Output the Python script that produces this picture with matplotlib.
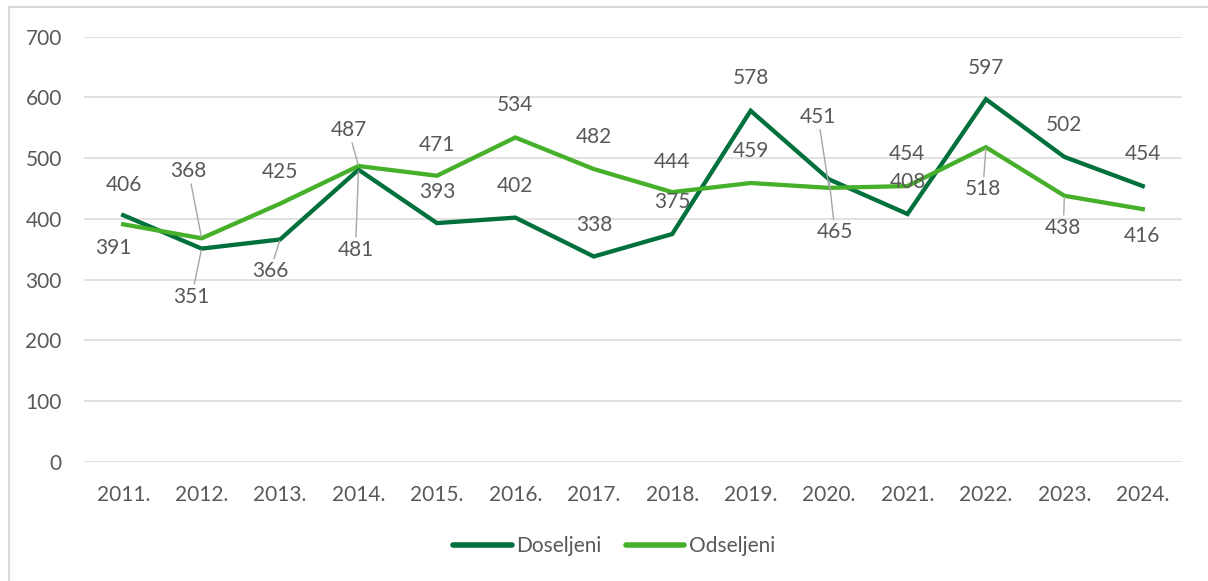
import matplotlib
matplotlib.use("Agg")
import matplotlib.pyplot as plt
from matplotlib.lines import Line2D

plt.rcParams['font.family'] = ['Lato', 'DejaVu Sans']

years = ['2011.', '2012.', '2013.', '2014.', '2015.', '2016.', '2017.',
         '2018.', '2019.', '2020.', '2021.', '2022.', '2023.', '2024.']
doseljeni = [406, 351, 366, 481, 393, 402, 338, 375, 578, 465, 408, 597, 502, 454]
odseljeni = [391, 368, 425, 487, 471, 534, 482, 444, 459, 451, 454, 518, 438, 416]
y_ticks = [0, 100, 200, 300, 400, 500, 600, 700]

# label placement (pixel offsets from the point) and leader-line flags
dos_off = [(1, 30), (-10, -48), (-10, -32), (-3, -80), (0, 31), (0, 32), (0, 31),
           (0, 32), (0, 33), (6, -53), (0, 32), (0, 31), (0, 32), (0, 32)]
dos_lead = [0, 1, 1, 1, 0, 0, 0, 0, 0, 1, 0, 0, 0, 0]
ods_off = [(-10, -24), (-13, 67), (0, 32), (-10, 36), (0, 31), (0, 32), (0, 32),
           (0, 30), (0, 32), (-11, 71), (-1, 32), (-3, -42), (-1, -32), (-1, -27)]
ods_lead = [0, 1, 0, 1, 0, 0, 0, 0, 0, 1, 0, 1, 1, 0]

DARK = '#00703C'
LIGHT = '#46B02B'
TXT = '#595959'
GRID = '#D9D9D9'
FS = 15

fig = plt.figure(figsize=(12.08, 5.81), dpi=100)
ax = fig.add_axes([84 / 1208, 1 - 461.7 / 581, (1182 - 84) / 1208, (461.7 - 36.7) / 581])

x = list(range(len(years)))
ax.plot(x, doseljeni, color=DARK, lw=3.1, label='Doseljeni', solid_joinstyle='miter', zorder=3)
ax.plot(x, odseljeni, color=LIGHT, lw=3.1, label='Odseljeni', solid_joinstyle='miter', zorder=3)

ax.set_xlim(-0.5, len(years) - 0.5)
ax.set_ylim(0, 700)
ax.set_yticks(y_ticks)
ax.set_xticks(x)
ax.set_xticklabels(years)
ax.grid(axis='y', color=GRID, lw=1.1)
ax.set_axisbelow(True)
for s in ax.spines.values():
    s.set_visible(False)
ax.tick_params(axis='both', length=0, labelsize=FS, labelcolor=TXT)
ax.tick_params(axis='y', pad=16)
ax.tick_params(axis='x', pad=17)

def add_labels(vals, offs, leads):
    for i, (v, (dx, dy), ld) in enumerate(zip(vals, offs, leads)):
        kw = {}
        if ld:
            kw['arrowprops'] = dict(arrowstyle='-', color='#A6A6A6', lw=1.0,
                                    shrinkA=0, shrinkB=1)
        ax.annotate(str(v), xy=(i, v), xytext=(dx, dy), textcoords='offset pixels',
                    ha='center', va='center', fontsize=FS, color=TXT, zorder=4, **kw)

add_labels(doseljeni, dos_off, dos_lead)
add_labels(odseljeni, ods_off, ods_lead)

leg = fig.legend(loc='center', bbox_to_anchor=(614 / 1208, 1 - 546 / 581), ncol=2,
                 frameon=False, fontsize=FS, handlelength=2.8, handletextpad=0.2,
                 columnspacing=1.2, labelcolor=TXT)
for h in leg.get_lines():
    h.set_linewidth(4)
    h.set_solid_capstyle('round')

# chart-area border (left and top visible)
fig.add_artist(Line2D([8.5 / 1208, 8.5 / 1208], [0, 1 - 6.5 / 581], transform=fig.transFigure,
                      color=GRID, lw=1.5))
fig.add_artist(Line2D([8.5 / 1208, 1], [1 - 6.5 / 581, 1 - 6.5 / 581], transform=fig.transFigure,
                      color=GRID, lw=1.5))

fig.savefig('out.png', dpi=100)
